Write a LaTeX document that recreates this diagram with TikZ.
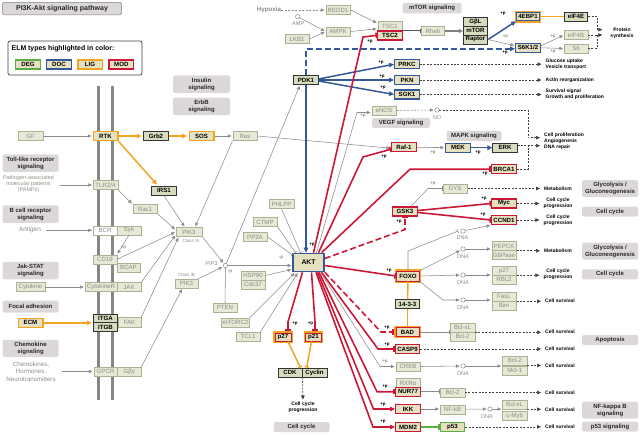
\documentclass[tikz,border=0pt]{standalone}
\usepackage{fontspec}
\setmainfont{Liberation Sans}
\usetikzlibrary{arrows.meta,calc}
\definecolor{modc}{HTML}{CC1836}
\definecolor{docc}{HTML}{34589A}
\definecolor{ligc}{HTML}{F3A423}
\definecolor{degc}{HTML}{5BAE45}
\definecolor{hifill}{HTML}{E4E0C0}
\definecolor{dkfill}{HTML}{D6DDBF}
\definecolor{fdfill}{HTML}{E5E9D6}
\definecolor{fddraw}{HTML}{AAB294}
\definecolor{fdtext}{HTML}{8C8C84}
\definecolor{boxgray}{HTML}{DCD8D8}
\definecolor{lgray}{HTML}{8C8C8C}
\definecolor{memb}{HTML}{8A8482}
\tikzset{
  nd/.style={rectangle, minimum width=24.5pt, minimum height=9pt, inner sep=0.3pt, font=\fontsize{6.1}{7}\selectfont\bfseries},
  fd/.style={nd, fill=fdfill, draw=fddraw, line width=0.5pt, text=fdtext, font=\fontsize{6.1}{7}\selectfont},
  dk/.style={nd, fill=dkfill, draw=black!80, line width=0.8pt},
  md/.style={nd, fill=hifill, draw=modc, line width=1.4pt},
  dc/.style={nd, fill=hifill, draw=docc, line width=1.4pt},
  lg/.style={nd, fill=hifill, draw=ligc, line width=1.5pt},
  dg/.style={nd, fill=hifill, draw=degc, line width=1.4pt},
  lm/.style={nd, fill=hifill, draw=modc, line width=1pt, preaction={draw=ligc, line width=3.6pt}},
  ld/.style={nd, fill=hifill, draw=docc, line width=1pt, preaction={draw=ligc, line width=3.6pt}},
  pb/.style={fill=boxgray, rounded corners=1.5pt, minimum width=57pt, minimum height=10pt, inner sep=0.5pt, align=center, font=\fontsize{6}{7}\selectfont\bfseries, text=black!85},
  tx/.style={font=\fontsize{5}{6}\selectfont\bfseries, align=left, anchor=west, inner sep=0pt},
  tc/.style={font=\fontsize{5}{6}\selectfont\bfseries, align=center, inner sep=0pt},
  pl/.style={font=\fontsize{4.5}{5}\selectfont\bfseries, inner sep=0pt},
  pg/.style={pl, text=fdtext},
  gt/.style={font=\fontsize{5.6}{6.2}\selectfont, text=fdtext, inner sep=0pt, align=center},
  dn/.style={circle, draw=lgray, fill=white, line width=0.5pt, minimum size=4.4pt, inner sep=0pt},
  gl/.style={draw=lgray, line width=0.55pt},
  ga/.style={gl, shorten >=1pt, -{Triangle[length=3.6pt,width=3.2pt]}},
  gda/.style={ga, dash pattern=on 2pt off 1.5pt},
  gb/.style={gl, -{Bar[width=4.5pt]}},
  rl/.style={draw=modc, line width=1.6pt},
  ra/.style={rl, -{Triangle[length=5pt,width=4.5pt]}},
  rb/.style={rl, -{Bar[width=5.5pt]}},
  rdb/.style={rb, dash pattern=on 6pt off 3pt},
  bla/.style={draw=docc, line width=1.5pt, -{Triangle[length=5pt,width=4.5pt]}},
  bda/.style={bla, dash pattern=on 6pt off 3pt},
  ola/.style={draw=ligc, line width=1.5pt, shorten >=1.5pt, -{Triangle[length=5pt,width=4.5pt]}},
  ol/.style={draw=ligc, line width=1.5pt},
  olb/.style={ol, -{Bar[width=4pt]}},
  da/.style={draw=black!75, line width=0.55pt, dash pattern=on 2pt off 1.4pt, shorten >=4pt, -{Triangle[length=4pt,width=3.6pt]}},
  dl/.style={draw=black!75, line width=0.55pt, dash pattern=on 2pt off 1.4pt},
}
\begin{document}
\begin{tikzpicture}[x=1pt,y=-1pt]
\useasboundingbox (0,0) rectangle (640,434);
% membrane
\draw[memb, line width=3pt] (98.3,86) -- (98.3,399.5);
\draw[memb, line width=3pt] (112.7,86) -- (112.7,399.5);
% title and legend
\node[pb, draw=black!50, line width=0.5pt, minimum width=119pt, minimum height=12.5pt, font=\fontsize{7}{8}\selectfont\bfseries] (title) at (62,8.5) {PI3K-Akt signaling pathway};
\node[draw=black!75, line width=0.7pt, rounded corners=2pt, minimum width=134pt, minimum height=34pt, fill=white] (legend) at (75,58) {};
\node[font=\fontsize{6.9}{8}\selectfont\bfseries, anchor=west, inner sep=0pt] (legt) at (11.5,49) {ELM types highlighted in color:};
\node[dg] (lDEG) at (28,64.3) {DEG};
\node[dc] (lDOC) at (59,64.3) {DOC};
\node[lg] (lLIG) at (90,64.3) {LIG};
\node[md] (lMOD) at (121.3,64.3) {MOD};
% pathway boxes
\node[pb, minimum height=17.5pt] (pins) at (201.5,84) {Insulin\\signaling};
\node[pb, minimum height=17.5pt] (perbb) at (201.5,106.3) {ErbB\\signaling};
\node[pb, minimum width=56pt, minimum height=17.5pt] (ptoll) at (30.5,163) {Toll-like receptor\\signaling};
\node[pb, minimum width=56pt, minimum height=17.5pt] (pbcr) at (30.5,214) {B cell receptor\\signaling};
\node[pb, minimum width=56pt, minimum height=17.5pt] (pjak) at (30.5,270.5) {Jak-STAT\\signaling};
\node[pb, minimum width=56pt, minimum height=12pt] (pfoc) at (30.5,306.7) {Focal adhesion};
\node[pb, minimum width=56pt, minimum height=17pt] (pchem) at (30.5,348.3) {Chemokine\\signaling};
\node[pb, minimum width=59pt, minimum height=10.5pt] (pmtor) at (432,8) {mTOR signaling};
\node[pb, minimum width=58pt] (pvegf) at (401,122.8) {VEGF signaling};
\node[pb, minimum width=55pt] (pmapk) at (474,135.8) {MAPK signaling};
\node[pb, minimum width=56pt, minimum height=17pt] (pg1) at (610,188.6) {Glycolysis /\\Gluconeogenesis};
\node[pb, minimum width=56pt] (pc1) at (610,211.7) {Cell cycle};
\node[pb, minimum width=56pt, minimum height=17pt] (pg2) at (610,251) {Glycolysis /\\Gluconeogenesis};
\node[pb, minimum width=56pt] (pc2) at (610,274.3) {Cell cycle};
\node[pb, minimum width=56pt] (papo) at (610,340) {Apoptosis};
\node[pb, minimum width=56pt, minimum height=17pt] (pnf) at (610,410) {NF-kappa B\\signaling};
\node[pb, minimum width=56pt] (pp53) at (610,426.7) {p53 signaling};
\node[pb, minimum width=56pt] (pcc0) at (301.5,427) {Cell cycle};
% left nodes
\node[fd] (GF) at (30.5,136) {GF};
\node[lg] (RTK) at (105.5,136) {RTK};
\node[dk] (Grb2) at (156,136) {Grb2};
\node[lg] (SOS) at (201.5,136) {SOS};
\node[fd] (Ras) at (245,136) {Ras};
\node[fd] (TLR) at (105.5,185) {TLR2/4};
\node[dk] (IRS1) at (164,190.7) {IRS1};
\node[fd] (Rac1) at (145,209) {Rac1};
\node[fd, fill=white, minimum width=23.5pt] (BCR) at (105,230.3) {BCR};
\node[fd, minimum width=24pt] (Syk) at (129,230.3) {Syk};
\node[fd, minimum width=26pt] (PIK3A) at (189,232) {PIK3};
\node[gt, font=\fontsize{4.5}{5}\selectfont] (cIA) at (191,240.7) {Class IA};
\node[fd, minimum width=23.5pt] (CD19) at (105,259.3) {CD19};
\node[fd, minimum width=23.5pt] (BCAP) at (128.5,267.5) {BCAP};
\node[fd, minimum width=29pt] (Cytok) at (30.5,287) {Cytokine};
\node[fd, minimum width=32pt] (CytR) at (101,287) {CytokineR};
\node[fd, minimum width=24pt] (JAK) at (129,287) {JAK};
\node[fd, minimum width=23pt] (PIK3B) at (186.5,283.5) {PIK3};
\node[gt, font=\fontsize{4.5}{5}\selectfont] (cIB) at (186.5,275) {Class IB};
\node[lg] (ECM) at (30.5,322.8) {ECM};
\node[dk, minimum height=8.5pt, minimum width=23.5pt] (ITGA) at (105.5,318.5) {ITGA};
\node[dk, minimum height=8.5pt, minimum width=23.5pt] (ITGB) at (105.5,327) {ITGB};
\node[fd, minimum width=23pt, minimum height=9.5pt] (FAK) at (129.5,322.3) {FAK};
\node[fd, minimum width=23.5pt] (GPCR) at (105.5,371.5) {GPCR};
\node[fd, minimum width=24pt] (Gby) at (129.2,371.5) {Gβγ};
\node[gt, font=\fontsize{5.4}{6}\selectfont] (pamps) at (28.5,184.5) {Pathogen-associated\\molecular patterns\\(PAMPs)};
\node[gt, font=\fontsize{6.4}{7}\selectfont] (antigen) at (30,230.3) {Antigen};
\node[gt, font=\fontsize{6.2}{7.3}\selectfont] (chemo) at (31,371.7) {Chemokines,\\Hormones,\\Neurotransmitters};
% top nodes
\node[gt, font=\fontsize{6.2}{7}\selectfont\bfseries] (hypoxia) at (269,10) {Hypoxia};
\node[fd] (REDD1) at (338,10) {REDD1};
\node[dn] (AMP) at (297.7,16.7) {};
\node[gt] (ampt) at (298.3,24) {AMP};
\node[fd] (AMPK) at (338,31.5) {AMPK};
\node[fd] (LKB1) at (297,39) {LKB1};
\node[fd] (TSC1) at (390,26) {TSC1};
\node[md] (TSC2) at (390,35.3) {TSC2};
\node[fd, minimum width=23pt] (Rheb) at (433,31) {Rheb};
\node[dk] (GbL) at (475.5,21.5) {GβL};
\node[dk] (mTOR) at (475.5,30.5) {mTOR};
\node[dk] (Raptor) at (475.5,39.5) {Raptor};
\node[ld, minimum width=23pt, minimum height=8pt] (EBP) at (528,16.7) {4EBP1};
\node[dk, minimum width=23.5pt] (eIF4E) at (576,16.7) {eIF4E};
\node[fd, minimum width=23.5pt] (eIF4B) at (576,35) {eIF4B};
\node[fd, minimum width=23.5pt] (S6) at (576,48.5) {S6};
\node[dc] (S6K) at (528,47.8) {S6K1/2};
\node[tc] (prot) at (622,33) {Protein\\synthesis};
\node[dk] (PDK1) at (306,80) {PDK1};
\node[dc] (PRKC) at (407,64.2) {PRKC};
\node[dc] (PKN) at (407,80) {PKN};
\node[dc] (SGK1) at (407,94.5) {SGK1};
\node[fd] (eNOS) at (384,110.5) {eNOS};
\node[dn] (NO) at (437,110) {};
\node[gt] (not) at (437,117.3) {NO};
\node[md] (Raf1) at (404,147.2) {Raf-1};
\node[dc] (MEK) at (458,147.7) {MEK};
\node[dk] (ERK) at (505,147.7) {ERK};
\node[md] (BRCA1) at (504,169.2) {BRCA1};
\node[fd] (GYS) at (455,188.5) {GYS};
\node[md] (GSK3) at (405,211.5) {GSK3};
\node[md] (Myc) at (504,203.5) {Myc};
\node[md] (CCND1) at (504,220) {CCND1};
\node[dn] (d1) at (463,231) {};
\node[dn] (d2) at (463,249) {};
\node[dn] (d3) at (463,275) {};
\node[dn] (d4) at (463,300) {};
\node[gt] (t1) at (462.5,238) {DNA};
\node[gt] (t2) at (463,256.5) {DNA};
\node[gt] (t3) at (463,282.5) {DNA};
\node[gt] (t4) at (463,307.3) {DNA};
\node[fd] (PEPCK) at (504,246) {PEPCK};
\node[fd] (G6P) at (504,255) {G6Pase};
\node[fd] (p27b) at (504,270.5) {p27};
\node[fd] (RBL2) at (504,279.5) {RBL2};
\node[fd] (FasL) at (504,296.5) {FasL};
\node[fd] (Bim) at (504,305.5) {Bim};
% centre
\node[fd] (PHLPP) at (281.5,204) {PHLPP};
\node[fd] (CTMP) at (265,222) {CTMP};
\node[fd] (PP2A) at (255,237) {PP2A};
\node[dc, minimum width=31pt, minimum height=18pt, line width=1.6pt, font=\fontsize{6.8}{7}\selectfont\bfseries] (AKT) at (308.5,262.5) {AKT};
\node[dn] (PIP3) at (225.5,265.5) {};
\node[gt] (pip3t) at (211.5,263.3) {PIP3};
\node[fd] (HSP90) at (253,275.5) {HSP90};
\node[fd] (Cdc37) at (253,284.3) {Cdc37};
\node[fd] (PTEN) at (225,307.5) {PTEN};
\node[fd, minimum width=28pt] (mTORC2) at (235.5,322.5) {mTORC2};
\node[fd] (TCL1) at (248,336.5) {TCL1};
\node[lm, minimum width=16pt, minimum height=8pt] (p27) at (283,337) {p27};
\node[lm, minimum width=16pt, minimum height=8pt] (p21) at (313.5,337) {p21};
\node[dk, minimum width=24pt] (CDK) at (290,372.5) {CDK};
\node[dk, minimum width=25pt] (Cyclin) at (314.5,372.5) {Cyclin};
\node[tc] (ccp0) at (303,407) {Cell cycle\\progression};
% right column
\node[lm, minimum width=23pt, minimum height=10pt] (FOXO) at (408,276) {FOXO};
\node[dk, minimum height=8.5pt] (p1433) at (407.5,304) {14-3-3};
\node[lm, minimum width=23pt, minimum height=8.5pt] (BAD) at (407.5,332) {BAD};
\node[md] (CASP9) at (407.5,349) {CASP9};
\node[fd] (CREB) at (408,366.5) {CREB};
\node[fd] (RXRa) at (408,383) {RXRα};
\node[md] (NUR77) at (408,391.7) {NUR77};
\node[md] (IKK) at (408,409) {IKK};
\node[md] (MDM2) at (408,427) {MDM2};
\node[fd] (BclxL1) at (462.5,327.5) {Bcl-xL};
\node[fd] (Bcl2a) at (462.5,336.8) {Bcl-2};
\node[dn] (d5) at (463,366) {};
\node[gt] (t5) at (463,373.5) {DNA};
\node[fd] (Bcl2b) at (514.7,360.7) {Bcl-2};
\node[fd] (Mcl1) at (514.7,370.3) {Mcl-1};
\node[fd] (Bcl2c) at (452.5,392.5) {Bcl-2};
\node[fd] (NFkB) at (452.5,409.3) {NF-kB};
\node[dn] (d6) at (490,409) {};
\node[gt] (t6) at (487,416.5) {DNA};
\node[fd] (BclxL2) at (514.7,404.5) {Bcl-xL};
\node[fd] (cMyb) at (514.7,415.7) {c-Myb};
\node[dg] (p53) at (452.5,426.8) {p53};
% outcome texts
\node[tx] (o1) at (545.5,64) {Glucose uptake\\Vesicle transport};
\node[tx] (o2) at (545.5,80) {Actin reorganization};
\node[tx] (o3) at (545.5,94.5) {Survival signal\\Growth and proliferation};
\node[tx] (o4) at (544,141.7) {Cell proliferation\\Angiogenesis\\DNA repair};
\node[tx] (o5) at (544,188.5) {Metabolism};
\node[tc] (o6) at (558,203.5) {Cell cycle\\progression};
\node[tc] (o7) at (558,220) {Cell cycle\\progression};
\node[tx] (o8) at (544,250.5) {Metabolism};
\node[tc] (o9) at (558,274.7) {Cell cycle\\progression};
\node[tx] (o10) at (545,300.5) {Cell survival};
\node[tx] (o11) at (545,332) {Cell survival};
\node[tx] (o12) at (545,348.5) {Cell survival};
\node[tx] (o13) at (545,365.3) {Cell survival};
\node[tx] (o14) at (545,392.7) {Cell survival};
\node[tx] (o15) at (545,409.3) {Cell survival};
\node[tx] (o16) at (545,426.8) {Cell survival};
% ---------------- connectors ----------------
\coordinate (cPA) at (60,185);
\coordinate (cAG) at (46,230.3);
\coordinate (cCH) at (62,371.5);
\draw[ga] (GF) -- (RTK);
\draw[ga] (cPA) -- (TLR);
\draw[ga] (cAG) -- (BCR);
\draw[ga] (Cytok) -- (CytR);
\draw[ga] (cCH) -- (GPCR);
\draw[ola] (ECM) -- (ECM -| ITGA.west);
\draw[ola] (RTK) -- (Grb2);
\draw[ola] (Grb2) -- (SOS);
\draw[ola] (RTK.south east) -- ([xshift=-6pt]IRS1.north);
\draw[ga] (SOS) -- (Ras);
\draw[ga] (Ras.east) -- ([yshift=-1pt]Raf1.west);
\draw[ga] (TLR.south east) -- (Rac1.north west);
\draw[ga] (Rac1.south east) -- ([yshift=2pt]PIK3A.west);
\draw[ga] (IRS1.south) -- ([xshift=-4pt]PIK3A.north);
\draw[ga] (Ras.south west) -- ([xshift=6pt]PIK3A.north);
\draw[ga] (CD19.east) -- (PIK3A.west);
\draw[ga] (JAK.north east) -- ([yshift=2pt]PIK3A.south west);
\draw[ga] (FAK.north east) -- ([xshift=3pt]PIK3A.south west);
\draw[ga] (Syk.south) -- (CD19.north east);
\node[pl, text=fdtext] (lp0) at (123.5,247.5) {+p};
\draw[ga] (Gby.north east) -- ([xshift=-4pt]PIK3B.south);
\draw[ga] (PIK3A.south east) -- (PIP3);
\draw[ga] (PIK3B.north east) -- (PIP3);
\draw[ga] (PIP3) -- (PIP3 -| AKT.west);
\draw[ga] (PIP3) -- ([xshift=-6pt]PDK1.south);
\draw[gl] (PTEN.north) -- (PIP3.south);
\node[pg] (lm1) at (230,272) {-p};
\draw[gb] (PHLPP.south) -- ([xshift=-8pt]AKT.north);
\draw[gb] (CTMP.south east) -- ([xshift=-13pt]AKT.north);
\draw[gb] (PP2A.east) -- ([yshift=-2pt]AKT.north west);
\node[pg] (lm2) at (281,257.5) {-p};
\draw[ga] (HSP90.east) -- ([yshift=3pt]AKT.south west);
\draw[ga] (mTORC2.north east) -- ([xshift=3pt]AKT.south west);
\draw[ga] (TCL1.north east) -- ([xshift=6pt]AKT.south west);
% PDK1
\draw[bla] (PDK1.south) -- (PDK1.south |- AKT.north);
\node[pl] (lp1) at (312,245) {+p};
\draw[bla] ([yshift=1pt]PDK1.east) -- (PRKC.west);
\draw[bla] (PDK1.east) -- (PKN.west);
\draw[bla] ([yshift=-1pt]PDK1.east) -- (SGK1.west);
\node[pl] (lp2) at (381,62.5) {+p};
\node[pl] (lp3) at (382,76.3) {+p};
\node[pl] (lp4) at (383,87.5) {+p};
\draw[bda] (PDK1.north) |- ([yshift=-1pt]S6K.west);
\node[pl] (lp5) at (505,53) {+p};
% mTOR
\draw[gda] (hypoxia) -- (REDD1);
\draw[ga] (AMP) -- (AMPK.west);
\draw[ga] (LKB1.east) -- (AMPK.west);
\draw[ga] (REDD1.east) -- ([yshift=-2pt]TSC1.north west);
\draw[ga] (AMPK.east) -- ([yshift=2pt]TSC1.south west);
\draw[draw=black!65, line width=0.8pt, -{Bar[width=4.5pt]}] (TSC1.south east) -- (TSC1.south east -| Rheb.west);
\draw[draw=black!50, line width=1.3pt, -{Triangle[length=4pt,width=4pt]}] (Rheb) -- (Rheb -| mTOR.west);
\draw[bla] (Raptor.east) -- (EBP.south west);
\node[pl] (lp6) at (503,13.5) {+p};
\draw[ga] (Raptor.east) -- ([yshift=2pt]S6K.west);
\node[pg] (lp7) at (505.5,37) {+p};
\draw[ol] (EBP) -- (eIF4E);
\draw[ga] ([yshift=2pt]S6K.east) -- (eIF4B.west);
\draw[ga] (S6K.east) -- (S6.west);
\node[pg] (lp8) at (553,36.5) {+p};
\node[pg] (lp9) at (553,51.5) {+p};
\coordinate (ps1) at (597,29.7);
\coordinate (ps2) at (597,35);
\draw[da, shorten >=8pt] (eIF4E.east) -| (ps1) -- (ps1 -| prot.west);
\draw[da, shorten >=8pt] (eIF4B.east) -- (eIF4B.east -| prot.west);
\draw[dl] (S6.east) -| (ps2);
\draw[da] (PRKC.east) -- (PRKC.east -| o1.west);
\draw[da] (PKN.east) -- (PKN.east -| o2.west);
\draw[da] (SGK1.east) -- (SGK1.east -| o3.west);
% eNOS / MAPK
\draw[gda] (eNOS.east) -- (NO.west);
\coordinate (cno) at (528,110);
\coordinate (cbr) at (528,137.7);
\coordinate (cer) at (528,145.7);
\draw[da] (NO.east) -- (cno) -- (cbr) -- (cbr -| o4.west);
\draw[da] ([yshift=2pt]ERK.east) -- (cer -| o4.west);
\draw[dl] (BRCA1.east) -| (cer);
\draw[ga] (Raf1) -- (MEK);
\node[pg] (lp10) at (433,152.7) {+p};
\draw[bla] (MEK) -- (ERK);
\node[pl] (lp11) at (478,153) {+p};
% AKT upward
\coordinate (k1) at (363,37);
\coordinate (k2) at (357,112.5);
\coordinate (k3) at (363,157);
\coordinate (k4) at (410,169.2);
\coordinate (k5) at (405,229.5);
\draw[rb] ([xshift=5pt]AKT.north) -- (k1) -- (TSC2.west);
\node[pl] (lp12) at (370,42) {+p};
\draw[ga] ([xshift=8pt]AKT.north) -- (k2) -- (k2 -| eNOS.west);
\node[pg] (lp13) at (363,116) {+p};
\draw[rb] ([xshift=10pt]AKT.north) -- (k3) -- ([yshift=-2pt]Raf1.west);
\node[pl] (lp14) at (384,156.5) {+p};
\draw[rb] ([xshift=13pt]AKT.north) -- (k4) -- (BRCA1.west);
\node[pl] (lp15) at (485,174) {+p};
\draw[rdb] ([yshift=4pt]AKT.east) -- (k5) -- (GSK3.south);
\node[pl] (lp16) at (399,222) {+p};
\draw[rb] ([yshift=-3pt]AKT.east) -- (FOXO.west);
\node[pl] (lp17) at (389,270.5) {+p};
% GSK3
\coordinate (cgy) at (428,188.5);
\draw[gb] ([xshift=6pt]GSK3.north) -- (cgy) -- (GYS.west);
\node[pg] (lp18) at (433,184) {+p};
\draw[rb] ([yshift=1pt]GSK3.east) -- (Myc.west);
\node[pl] (lp19) at (484,199) {+p};
\draw[rb] ([yshift=-1pt]GSK3.east) -- (CCND1.west);
\node[pl] (lp20) at (483,214.5) {+p};
\draw[da] (GYS.east) -- (GYS.east -| o5.west);
\draw[da] (Myc.east) -- (Myc.east -| o6.west);
\draw[da] (CCND1.east) -- (CCND1.east -| o7.west);
% FOXO targets
\coordinate (cf1) at (408,251);
\coordinate (cf4) at (443,300);
\draw[gb] (FOXO.north) -- (cf1) -- ([xshift=-5pt]d1.center);
\draw[ga] (d1) -- (CCND1.south west);
\draw[ga] (FOXO.north east) -- (d2);
\draw[ga] (d2) -- (d2 -| PEPCK.west);
\draw[ga] (FOXO.east) -- (d3);
\draw[ga] (d3) -- (d3 -| p27b.west);
\draw[ga] (FOXO.south east) -- (cf4) -- (d4);
\draw[ga] (d4) -- (d4 -| FasL.west);
\draw[da] (PEPCK.south east) -- (PEPCK.south east -| o8.west);
\draw[da] (p27b.south east) -- (p27b.south east -| o9.west);
\draw[da] (FasL.south east) -- (FasL.south east -| o10.west);
\draw[ol] (FOXO.south) -- (p1433.north);
\draw[ol] (p1433.south) -- (BAD.north);
% AKT downward
\coordinate (k6) at (288,322);
\coordinate (k7) at (315,322);
\coordinate (k8) at (381,332);
\coordinate (k9) at (378,349);
\coordinate (k10) at (380,366.5);
\coordinate (k11) at (377,391.7);
\coordinate (k12) at (373.5,409);
\coordinate (k13) at (373,427);
\draw[rb, shorten >=1.5pt] ([xshift=-6pt]AKT.south) -- (k6) -- (k6 |- p27.north);
\node[pl] (lp21) at (295,324) {+p};
\draw[rb, shorten >=1.5pt] ([xshift=3pt]AKT.south) -- (k7) -- (k7 |- p21.north);
\node[pl] (lp22) at (310.5,324) {+p};
\draw[olb] ([xshift=5pt]p27.south) -- ([xshift=-2pt]CDK.north east);
\draw[olb] ([xshift=-2pt]p21.south) -- ([xshift=5pt]Cyclin.north west);
\draw[da, shorten >=2pt] (CDK.south east) -- (ccp0.north);
\draw[rdb, shorten >=1.5pt] (AKT.south east) -- (k8) -- (BAD.west);
\node[pl] (lp23) at (387,327.5) {+p};
\draw[rb] ([xshift=13pt]AKT.south) -- (k9) -- (CASP9.west);
\node[pl] (lp24) at (387,344.3) {+p};
\draw[ga] ([xshift=12pt]AKT.south) -- (k10) -- (CREB.west);
\node[pg] (lp25) at (385,362) {+p};
\draw[rb] ([xshift=10.5pt]AKT.south) -- (k11) -- (NUR77.west);
\node[pl] (lp26) at (385,387) {+p};
\draw[ra] ([xshift=9pt]AKT.south) -- (k12) -- (IKK.west);
\node[pl] (lp27) at (383,404.5) {+p};
\draw[ra] ([xshift=7.5pt]AKT.south) -- (k13) -- (MDM2.west);
\node[pl] (lp28) at (383,422) {+p};
% lower right
\draw[gb] (BAD.east) -- (BAD.east -| BclxL1.west);
\draw[da] (BclxL1.south east) -- (BclxL1.south east -| o11.west);
\draw[da] (CASP9.east) -- (CASP9.east -| o12.west);
\draw[ga] (CREB.east) -- (d5);
\draw[ga] (d5) -- (d5 -| Bcl2b.west);
\draw[da] (Bcl2b.south east) -- (Bcl2b.south east -| o13.west);
\draw[gb] (NUR77.east) -- (NUR77.east -| Bcl2c.west);
\draw[da] (Bcl2c.east) -- (Bcl2c.east -| o14.west);
\draw[ga] (IKK) -- (IKK -| NFkB.west);
\draw[ga] (NFkB) -- (d6);
\draw[ga] (d6) -- (d6 -| BclxL2.west);
\draw[da] (BclxL2.south east) -- (BclxL2.south east -| o15.west);
\draw[draw=degc, line width=1.5pt, -{Bar[width=5.5pt]}] (MDM2) -- (MDM2 -| p53.west);
\draw[da] (p53.east) -- (p53.east -| o16.west);
\end{tikzpicture}
\end{document}
